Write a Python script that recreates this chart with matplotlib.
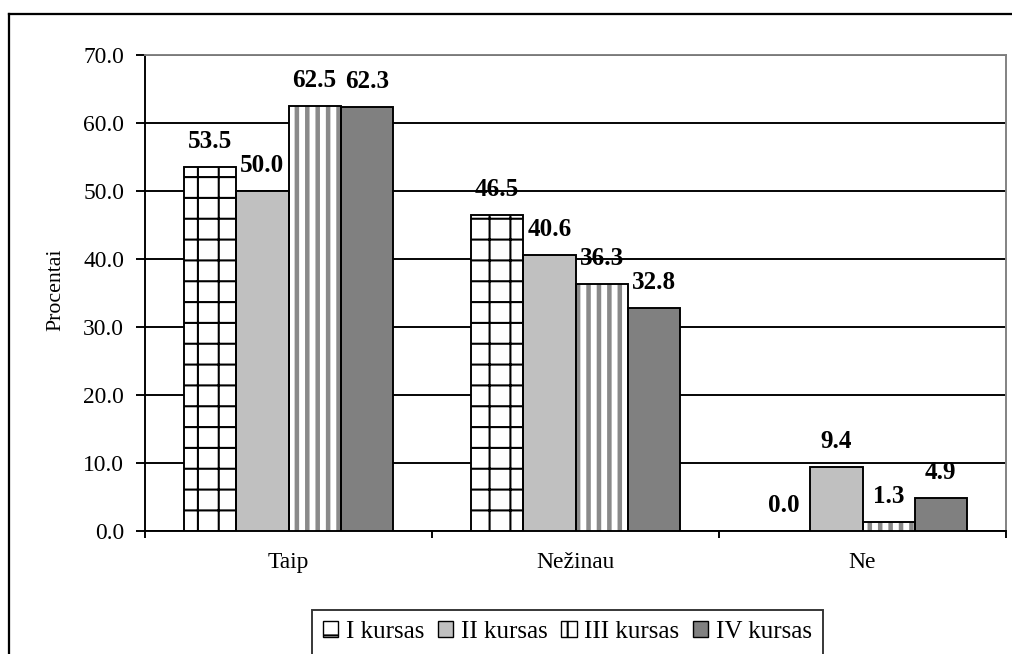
import numpy as np
import matplotlib
matplotlib.use("Agg")
import matplotlib.pyplot as plt
from matplotlib.patches import Patch
from matplotlib.lines import Line2D

plt.rcParams['font.family'] = ['Liberation Serif', 'DejaVu Serif']
plt.rcParams['hatch.linewidth'] = 1.2

# answers per course, percent
categories = ["Taip", "Nežinau", "Ne"]
series_names = ["I kursas", "II kursas", "III kursas", "IV kursas"]
kursas_1 = [53.5, 46.5, 0.0]
kursas_2 = [50.0, 40.6, 9.4]
kursas_3 = [62.5, 36.3, 1.3]
kursas_4 = [62.3, 32.8, 4.9]
y_ticks = [0, 10, 20, 30, 40, 50, 60, 70]

values = [kursas_1, kursas_2, kursas_3, kursas_4]
# (face, hatch, hatch colour, hatch width)
styles = [("white", "+", "black", 1.2),
          ("#c0c0c0", "", "#c0c0c0", 1.2),
          ("white", "||", "#8a8a8a", 2.6),
          ("#808080", "", "#808080", 1.2)]

fig = plt.figure(figsize=(1012 / 125, 654 / 125), dpi=125)
ax = fig.add_axes([145 / 1012, 1 - 531 / 654, (1006 - 145) / 1012, (531 - 55) / 654])

x = np.arange(len(categories))
w = 1 / 5.5
handles = []
for i, (vals, (face, hatch, hcol, hlw)) in enumerate(zip(values, styles)):
    pos = x + (i - 1.5) * w
    # fill + hatch first, then a black outline on top
    bars = ax.bar(pos, vals, w, color=face, hatch=hatch, edgecolor=hcol, linewidth=0, zorder=3)
    for b in bars:
        if hasattr(b, "set_hatch_linewidth"):
            b.set_hatch_linewidth(hlw)
    ax.bar(pos, vals, w, fill=False, edgecolor="black", linewidth=1.1, zorder=4)
    for xp, v in zip(pos, vals):
        ax.annotate(f"{v:.1f}", (xp, v), xytext=(0, 11), textcoords="offset points",
                    ha="center", va="baseline", fontsize=14.5, fontweight="bold", zorder=5)
    handles.append(Patch(facecolor=face, hatch=hatch, edgecolor="black", linewidth=0.8))

ax.set_xlim(-0.5, 2.5)
ax.set_ylim(0, 70)
ax.set_yticks(y_ticks)
ax.set_yticklabels([f"{t:.1f}" for t in y_ticks], fontsize=13.5)
ax.yaxis.grid(True, color="black", linewidth=1.1, zorder=1)
ax.set_axisbelow(True)
ax.tick_params(axis="y", direction="out", length=5, width=1.1, pad=7)

ax.set_xticks([-0.5, 0.5, 1.5, 2.5])
ax.set_xticklabels([])
ax.set_xticks(x, minor=True)
ax.set_xticklabels(categories, minor=True, fontsize=13.5)
ax.tick_params(axis="x", which="major", direction="out", length=4, width=1.1)
ax.tick_params(axis="x", which="minor", length=0, pad=12)

for s in ("left", "bottom"):
    ax.spines[s].set_color("black")
    ax.spines[s].set_linewidth(1.1)
for s in ("top", "right"):
    ax.spines[s].set_color("#808080")
    ax.spines[s].set_linewidth(1.1)

fig.text(56 / 1012, 1 - 290 / 654, "Procentai", rotation=90, ha="center", va="center", fontsize=12.5)

leg = fig.legend(handles, series_names, loc="upper left", bbox_to_anchor=(312 / 1012, 1 - 610 / 654),
                 ncol=4, fontsize=14.5, frameon=True, fancybox=False, handlelength=0.6, handleheight=0.6,
                 handletextpad=0.3, columnspacing=0.55, borderpad=0.45, borderaxespad=0)
leg.get_frame().set_edgecolor("black")
leg.get_frame().set_linewidth(1.1)

# outer chart frame
fig.add_artist(Line2D([9 / 1012, 9 / 1012], [-0.05, 1 - 14 / 654], color="black", linewidth=1.3))
fig.add_artist(Line2D([9 / 1012, 1.05], [1 - 14 / 654, 1 - 14 / 654], color="black", linewidth=1.3))

fig.savefig("out.png", dpi=125)
